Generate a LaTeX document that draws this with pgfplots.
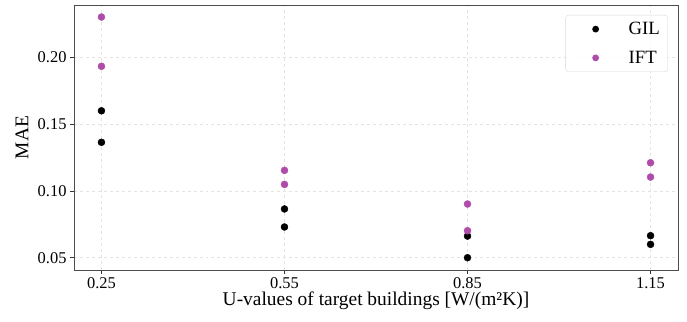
\documentclass[border=0pt]{standalone}
\usepackage{fontspec}
\setmainfont{Liberation Serif}
\usepackage{pgfplots}
\pgfplotsset{compat=1.18}
\definecolor{ift}{HTML}{AF4BA8}
\begin{document}
\begin{tikzpicture}
\begin{axis}[
  at={(0,0)}, anchor=south west,
  scale only axis,
  width=604bp, height=265bp,
  xmin=0.205, xmax=1.195,
  ymin=0.0408, ymax=0.2392,
  xtick={0.25,0.55,0.85,1.15},
  ytick={0.05,0.10,0.15,0.20},
  xticklabel style={/pgf/number format/.cd,fixed,fixed zerofill,precision=2},
  yticklabel style={/pgf/number format/.cd,fixed,fixed zerofill,precision=2},
  /pgf/number format/assume math mode=true,
  tick label style={font=\fontsize{16.5}{18}\selectfont},
  label style={font=\fontsize{19.5}{22}\selectfont},
  xlabel={U-values of target buildings [W/(m²K)]},
  ylabel={MAE},
  xlabel style={at={(axis description cs:0.5,-0.117)}, anchor=center},
  ylabel style={at={(axis description cs:-0.086,0.5)}, anchor=center},
  grid=major,
  major grid style={dashed, gray!22, line width=0.5pt},
  axis line style={draw=black!70, line width=0.8pt},
  tick style={draw=black!80, line width=0.6pt},
  tick align=outside,
  major tick length=4bp,
  xtick pos=bottom, ytick pos=left,
  legend style={at={(1,1)}, xshift=-10bp, yshift=-10bp, anchor=north east, draw=black!15, rounded corners=3pt,
    fill=white, fill opacity=0.8, text opacity=1, font=\fontsize{18.8}{21}\selectfont,
    row sep=11pt, inner xsep=6pt, inner ysep=5pt},
  legend cell align=left,
  legend image code/.code={\path[draw=none,fill=none] (-24bp,0) rectangle (31bp,0); \fill[#1, draw=none, fill opacity=1] (0,0) circle (3.4bp);},
]
\addplot[only marks, mark=*, mark size=3.5bp, black, mark options={draw=black, fill=black}]
  coordinates {(0.25,0.160) (0.25,0.1364) (0.55,0.0865) (0.55,0.0730) (0.85,0.0662) (0.85,0.0500) (1.15,0.0665) (1.15,0.0600)};
\addlegendentry{GIL}
\addplot[only marks, mark=*, mark size=3.5bp, ift, mark options={draw=ift, fill=ift}]
  coordinates {(0.25,0.2302) (0.25,0.1933) (0.55,0.1154) (0.55,0.1049) (0.85,0.0902) (0.85,0.0702) (1.15,0.1211) (1.15,0.1104)};
\addlegendentry{IFT}
\end{axis}
\pgfresetboundingbox
\path[use as bounding box] (-74bp,-52bp) rectangle (613bp,270bp);
\end{tikzpicture}
\end{document}
